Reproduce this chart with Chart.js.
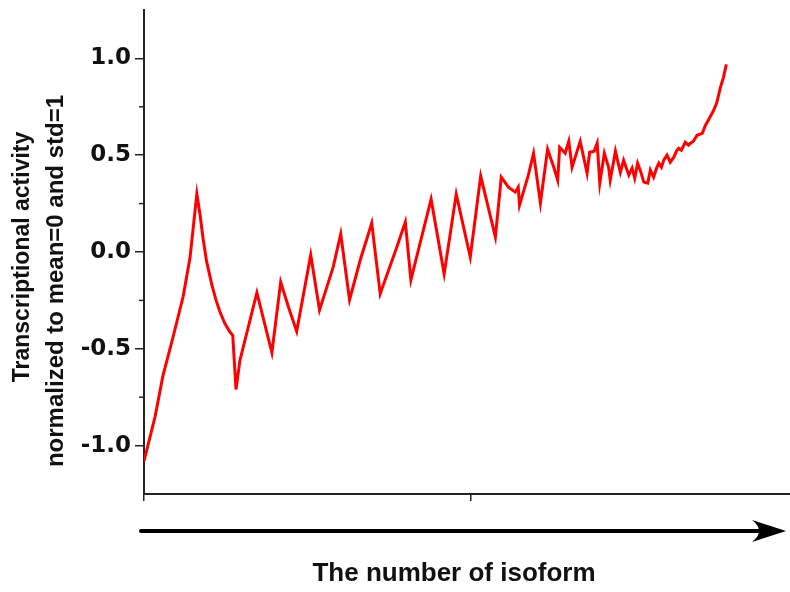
<!DOCTYPE html>
<html>
<head>
<meta charset="utf-8">
<script src="https://cdn.jsdelivr.net/npm/chart.js@4.4.1/dist/chart.umd.min.js"></script>
<style>
  html, body { margin: 0; padding: 0; background: #fff; overflow: hidden; }
  #c { display: block; }
</style>
</head>
<body>
<canvas id="c" width="790" height="592"></canvas>
<script>
// Isoform position along the ordering (x) and normalized transcriptional activity (y)
const isoform = [
  0, 3.4, 5.8, 8.9, 12.0, 14.1, 16.2, 17.2, 18.1, 19.2, 20.8, 22.1, 23.3, 24.8, 26.4, 27.2, 28.2, 29.4,
  34.6, 39.2, 41.9, 44.2, 46.8, 51.1, 53.8, 58.0, 60.3, 63.0, 66.3, 69.8, 72.4,
  77.5, 80.1, 81.8, 88.0, 92.0, 95.7, 100.0, 103.2, 107.7, 109.5, 111.7, 113.8,
  114.7, 115.1, 117.8, 119.4, 121.5, 123.7, 125.6, 126.8, 127.4, 129.1, 130.2,
  131.2, 133.7, 135.8, 136.6, 138.0, 138.9, 139.7, 141.1, 142.4, 142.9, 144.5,
  146.0, 147.0, 148.6, 149.6, 150.4, 151.3, 152.1, 153.2, 154.4, 155.2, 156.2,
  157.1, 157.8, 158.6, 159.3, 160.3, 161.3, 162.4, 163.2, 163.9, 164.7, 165.9,
  166.9, 167.5, 168.4, 169.5, 171.1, 172.1, 173.3, 174.6, 175.5, 176.7, 177.6, 178.5
];
const activity = [
  -1.08, -0.85, -0.64, -0.44, -0.23, -0.03, 0.30, 0.19, 0.07, -0.05, -0.17, -0.25, -0.31, -0.37, -0.415, -0.43, -0.71, -0.56,
  -0.21, -0.52, -0.155, -0.28, -0.41, -0.015, -0.30, -0.077, 0.093, -0.247, -0.04, 0.149, -0.216,
  0.026, 0.155, -0.144, 0.273, -0.113, 0.299, -0.026, 0.392, 0.077, 0.387, 0.335, 0.309,
  0.335, 0.242, 0.397, 0.510, 0.253, 0.531, 0.438, 0.371, 0.541, 0.510, 0.572,
  0.438, 0.572, 0.407, 0.515, 0.521, 0.562, 0.356, 0.510, 0.438, 0.371, 0.521,
  0.412, 0.474, 0.397, 0.433, 0.381, 0.459, 0.423, 0.361, 0.356, 0.423, 0.387,
  0.433, 0.459, 0.438, 0.474, 0.500, 0.464, 0.490, 0.521, 0.536, 0.526, 0.567,
  0.552, 0.562, 0.572, 0.603, 0.613, 0.655, 0.691, 0.732, 0.768, 0.851, 0.902, 0.969
];

const yTickValues = [-1, -0.5, 0, 0.5, 1];
const yMinorValues = [-0.75, -0.25, 0.25, 0.75];
const xTickValues = [0, 100];
const yTitleLines = ['Transcriptional activity', 'normalized to mean=0 and std=1'];
const xTitle = 'The number of isoform';

const AXIS_COLOR = '#222';

// Minor y ticks, the direction arrow under the x axis and the axis titles
const decorations = {
  id: 'decorations',
  afterDraw(chart) {
    const { ctx, scales: { x, y } } = chart;
    ctx.save();

    ctx.strokeStyle = AXIS_COLOR;
    ctx.lineWidth = 1.5;
    yMinorValues.forEach(v => {
      const py = y.getPixelForValue(v);
      ctx.beginPath();
      ctx.moveTo(x.left - 5, py);
      ctx.lineTo(x.left, py);
      ctx.stroke();
    });

    const ay = 531;
    ctx.strokeStyle = '#000';
    ctx.lineWidth = 4;
    ctx.lineCap = 'round';
    ctx.beginPath();
    ctx.moveTo(141, ay);
    ctx.lineTo(768, ay);
    ctx.stroke();
    ctx.fillStyle = '#000';
    ctx.beginPath();
    ctx.moveTo(786, ay);
    ctx.lineTo(752, ay - 11);
    ctx.quadraticCurveTo(766, ay, 752, ay + 11);
    ctx.closePath();
    ctx.fill();

    ctx.fillStyle = '#111';
    ctx.textAlign = 'center';
    ctx.textBaseline = 'middle';
    ctx.font = 'bold 26px "Liberation Sans", Arial, sans-serif';
    ctx.fillText(xTitle, 454, 574);

    ctx.save();
    ctx.translate(23, 257);
    ctx.rotate(-Math.PI / 2);
    ctx.font = 'bold 23px "Liberation Sans", Arial, sans-serif';
    ctx.fillText(yTitleLines[0], 0, 0);
    ctx.restore();

    ctx.save();
    ctx.translate(56, 281);
    ctx.rotate(-Math.PI / 2);
    ctx.font = 'bold 24px "Liberation Sans", Arial, sans-serif';
    ctx.fillText(yTitleLines[1], 0, 0);
    ctx.restore();

    ctx.restore();
  }
};

new Chart(document.getElementById('c'), {
  type: 'line',
  data: {
    datasets: [{
      data: isoform.map((v, i) => ({ x: v, y: activity[i] })),
      borderColor: '#ff0000',
      borderWidth: 3,
      pointRadius: 0,
      tension: 0,
      fill: false
    }]
  },
  options: {
    responsive: false,
    animation: false,
    layout: { padding: { top: 10, right: 0, bottom: 0, left: 0 } },
    plugins: { legend: { display: false }, tooltip: { enabled: false } },
    scales: {
      x: {
        type: 'linear',
        min: 0,
        max: 198,
        afterBuildTicks: s => { s.ticks = xTickValues.map(v => ({ value: v })); },
        afterFit: s => { s.height = 98; s.paddingLeft = 0; s.paddingRight = 0; },
        ticks: { display: false },
        grid: { drawOnChartArea: false, color: AXIS_COLOR, lineWidth: 1.5, tickLength: 7 },
        border: { color: AXIS_COLOR, width: 2 }
      },
      y: {
        type: 'linear',
        min: -1.25,
        max: 1.25,
        afterBuildTicks: s => { s.ticks = yTickValues.map(v => ({ value: v })); },
        afterFit: s => { s.width = 144; s.paddingTop = 0; s.paddingBottom = 0; },
        ticks: {
          color: '#111',
          padding: 4,
          font: { family: '"DejaVu Sans", sans-serif', weight: 'bold', size: 23 },
          callback: v => v.toFixed(1)
        },
        grid: { drawOnChartArea: false, color: AXIS_COLOR, lineWidth: 1.5, tickLength: 9 },
        border: { color: AXIS_COLOR, width: 2 }
      }
    }
  },
  plugins: [decorations]
});
</script>
</body>
</html>
